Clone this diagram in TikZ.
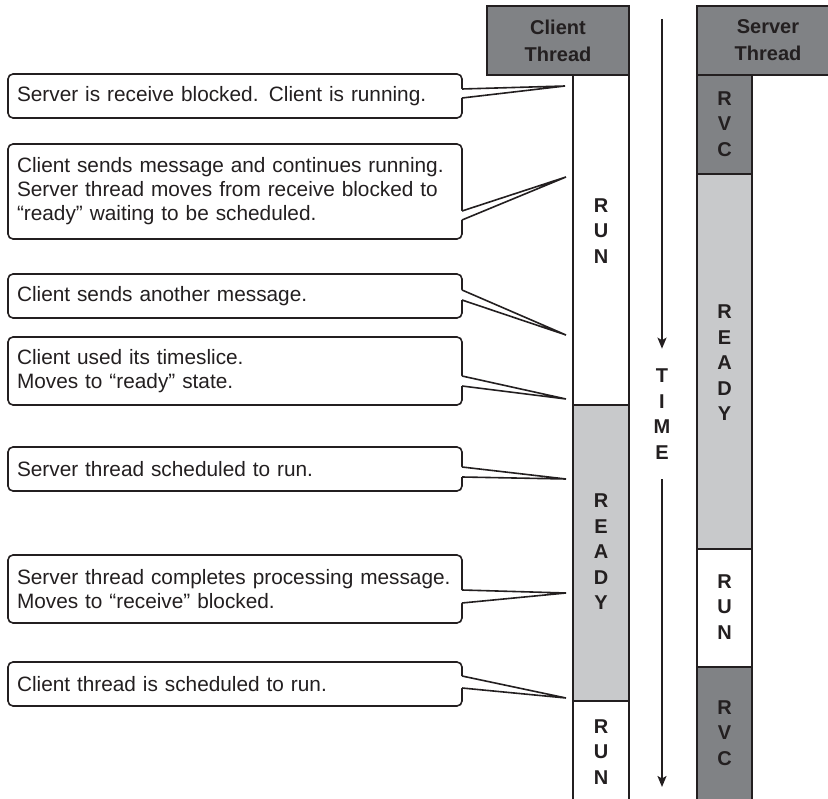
\documentclass[tikz,border=0pt]{standalone}
\usepackage{fontspec}
\setmainfont{Liberation Sans}
\usetikzlibrary{arrows.meta}

\definecolor{ink}{HTML}{231F20}
\definecolor{rvcgrey}{HTML}{808285}
\definecolor{readygrey}{HTML}{C8C9CB}

\tikzset{
  callbox/.style={draw=ink, fill=white, line width=1.6pt, rounded corners=5pt, outer sep=0pt,
    anchor=north west, text width=436pt, inner xsep=9pt, inner ysep=0pt, align=left,
    font=\fontsize{20.8}{24}\selectfont, text=ink},
  tailline/.style={draw=ink, line width=1.6pt},
  slab/.style={draw=ink, line width=2.4pt},
  threadhead/.style={draw=ink, fill=rvcgrey, line width=2.4pt, minimum width=142pt, minimum height=69pt,
    align=center, font=\fontsize{20}{27}\selectfont\bfseries, text=ink},
  stacked/.style={align=center, inner sep=0pt, font=\fontsize{20}{25.5}\selectfont\bfseries, text=ink},
  timearrow/.style={draw=ink, line width=1.8pt, -{Stealth[length=11pt,width=9pt,inset=2.5pt]}}
}

% pointer of a callout: node, two offsets below its top edge, tip
\newcommand\notetail[4]{%
  \fill[white] ([xshift=-2pt,yshift=-#2pt]#1.north east) -- ([yshift=-#2pt]#1.north east) -- (#4)
    -- ([yshift=-#3pt]#1.north east) -- ([xshift=-2pt,yshift=-#3pt]#1.north east) -- cycle;
  \draw[tailline] ([yshift=-#2pt]#1.north east) -- (#4) -- ([yshift=-#3pt]#1.north east);}

\begin{document}
\begin{tikzpicture}[x=1pt,y=-1pt]
\useasboundingbox (0,0) rectangle (828,799);

% client thread
\draw[slab, fill=white] (573,75) rectangle (629,405);
\draw[slab, fill=readygrey] (573,405) rectangle (629,701);
\draw[slab, fill=white] (573,701) rectangle (629,808);
\node[threadhead] (chead) at (558,40.5) {Client\\Thread};
\node[stacked] (crun) at (601,231) {R\\U\\N};
\node[stacked] (cready) at (601,552) {R\\E\\A\\D\\Y};
\node[stacked] (crunb) at (601,752) {R\\U\\N};

% server thread
\draw[slab, fill=rvcgrey] (697,75) rectangle (752,174);
\draw[slab, fill=readygrey] (697,174) rectangle (752,549);
\draw[slab, fill=white] (697,549) rectangle (752,667);
\draw[slab, fill=rvcgrey] (697,667) rectangle (752,808);
\node[threadhead] (shead) at (768,40.5) {Server\\Thread};
\node[stacked] (srvc) at (724.5,124) {R\\V\\C};
\node[stacked] (sready) at (724.5,363) {R\\E\\A\\D\\Y};
\node[stacked] (srun) at (724.5,607) {R\\U\\N};
\node[stacked] (srvcb) at (724.5,733) {R\\V\\C};

% time axis
\node[stacked, inner ysep=20pt] (time) at (662,414) {T\\I\\M\\E};
\coordinate (ttop) at (662,19);
\coordinate (tbot) at (662,787);
\draw[timearrow] (ttop) -- (time.north);
\draw[timearrow] (time.south) -- (tbot);

% callouts
\node[callbox, minimum height=44pt] (n1) at (8,74) {Server is receive blocked. Client is running.};
\node[callbox, minimum height=95pt] (n2) at (8,144) {Client sends message and continues running.\\Server thread moves from receive blocked to\\“ready” waiting to be scheduled.};
\node[callbox, minimum height=44pt] (n3) at (8,274) {Client sends another message.};
\node[callbox, minimum height=68pt] (n4) at (8,337) {Client used its timeslice.\\Moves to “ready” state.};
\node[callbox, minimum height=44pt] (n5) at (8,447) {Server thread scheduled to run.};
\node[callbox, minimum height=68pt] (n6) at (8,555) {Server thread completes processing message.\\Moves to “receive” blocked.};
\node[callbox, minimum height=44pt] (n7) at (8,662) {Client thread is scheduled to run.};

\coordinate (c1) at (565,86);
\coordinate (c2) at (566,177);
\coordinate (c3) at (566,335);
\coordinate (c4) at (566,399);
\coordinate (c5) at (566,479);
\coordinate (c6) at (566,593);
\coordinate (c7) at (566,698);

\notetail{n1}{15}{24}{c1}
\notetail{n2}{67}{76}{c2}
\notetail{n3}{16}{26}{c3}
\notetail{n4}{39}{49}{c4}
\notetail{n5}{20}{30}{c5}
\notetail{n6}{35}{48}{c6}
\notetail{n7}{14}{26}{c7}
\end{tikzpicture}
\end{document}
